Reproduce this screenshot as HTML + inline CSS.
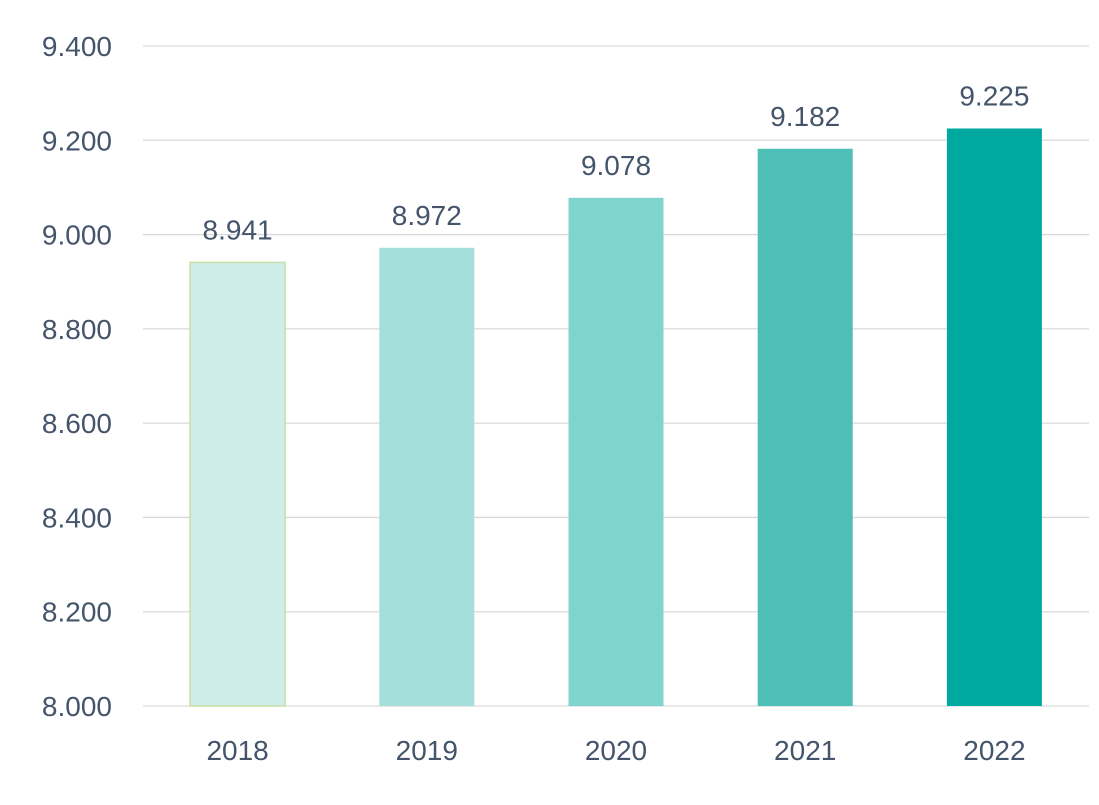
<!DOCTYPE html>
<html><head><meta charset="utf-8"><style>
body{margin:0;background:#fff;}
svg{display:block;font-family:"Liberation Sans",sans-serif;}
</style></head><body>
<svg id="chart" width="1099" height="805" viewBox="0 0 1099 805"></svg>
<script>
const categories=["2018","2019","2020","2021","2022"];
const values=[8.941,8.972,9.078,9.182,9.225];
const valueLabels=["8.941","8.972","9.078","9.182","9.225"];
const yTicks=[8.0,8.2,8.4,8.6,8.8,9.0,9.2,9.4];
const yTickLabels=["8.000","8.200","8.400","8.600","8.800","9.000","9.200","9.400"];
const colors=["#cdecea","#a5dfdc","#80d4ce","#4dbfb6","#00a99f"];
const NS="http://www.w3.org/2000/svg";
const svgEl=document.getElementById("chart");
const plotLeft=143,plotRight=1089,yMin=8.0,yMax=9.4,plotTop=46,plotBottom=706;
const yScale=v=>plotBottom-(v-yMin)/(yMax-yMin)*(plotBottom-plotTop);
const band=(plotRight-plotLeft)/categories.length;
const xc=i=>plotLeft+band*(i+0.5);
function mk(t,a){const e=document.createElementNS(NS,t);for(const k in a)e.setAttribute(k,a[k]);svgEl.appendChild(e);return e;}
yTicks.forEach((t,i)=>{
 const l=mk("line",{x1:plotLeft,x2:plotRight,y1:yScale(t),y2:yScale(t),stroke:"#d9d9d9","stroke-width":1.3});
 
 
 const tx=mk("text",{x:112,y:yScale(t)+10,"text-anchor":"end","font-size":28,fill:"#44546a"});
 tx.textContent=yTickLabels[i];
 
 
});
values.forEach((v,i)=>{
 const bw=95;
 const r=mk("rect",{x:xc(i)-bw/2,y:yScale(v),width:bw,height:plotBottom-yScale(v),fill:colors[i]});
 if(i===0){r.setAttribute("stroke","#c5e0a5");r.setAttribute("stroke-width","1.5");}
 
 
 const vl=mk("text",{x:xc(i),y:yScale(v)-23,"text-anchor":"middle","font-size":28,fill:"#44546a"});
 vl.textContent=valueLabels[i];
 
 
 const xl=mk("text",{x:xc(i),y:760,"text-anchor":"middle","font-size":28,fill:"#44546a"});
 xl.textContent=categories[i];
 
 
});
</script>
</body></html>
